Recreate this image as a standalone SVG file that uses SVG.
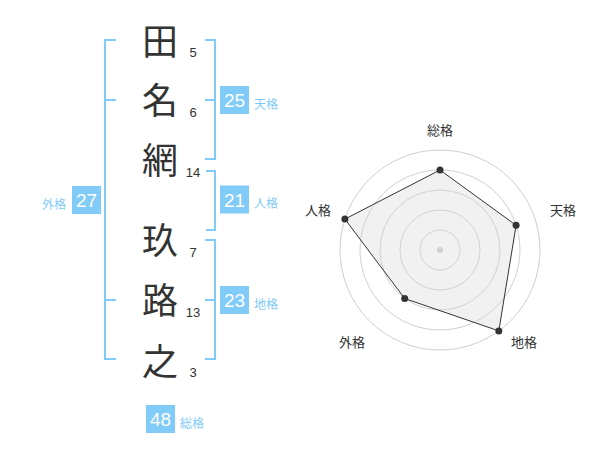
<svg xmlns="http://www.w3.org/2000/svg" width="600" height="470" viewBox="0 0 600 470">
<style>
.ch{font-family:"Noto Sans CJK JP","Noto Sans CJK SC",sans-serif;font-size:36px;fill:#333;text-anchor:middle}
.num{font-family:"Liberation Sans",Arial,sans-serif;font-size:13px;fill:#333;text-anchor:middle}
.box{fill:#80cbf7}
.bt{font-family:"Liberation Sans",Arial,sans-serif;font-size:19px;fill:#fff;text-anchor:middle}
.lb{font-family:"Noto Sans CJK JP","Noto Sans CJK SC",sans-serif;font-size:12px;fill:#80cbf7}
.br{fill:none;stroke:#80cbf7;stroke-width:2}
.ring{fill:none;stroke:#cfcfcf;stroke-width:1}
.rl{font-family:"Noto Sans CJK JP","Noto Sans CJK SC",sans-serif;font-size:13px;fill:#333;text-anchor:middle}
.pt{fill:#333}
</style>
<rect width="600" height="470" fill="#fff"/>
<g id="names">
<g id="c1"><text class="ch" x="160" y="55">田</text><text class="num" x="193" y="57">5</text></g>
<g id="c2"><text class="ch" x="160" y="114">名</text><text class="num" x="193" y="117">6</text></g>
<g id="c3"><text class="ch" x="160" y="174">網</text><text class="num" x="193" y="177">14</text></g>
<g id="c4"><text class="ch" x="160" y="254">玖</text><text class="num" x="193" y="257">7</text></g>
<g id="c5"><text class="ch" x="160" y="314">路</text><text class="num" x="193" y="317">13</text></g>
<g id="c6"><text class="ch" x="160" y="375">之</text><text class="num" x="193" y="377">3</text></g>
</g>
<g id="connectors">
<path class="br" d="M116,40 H105 V359 H116 M105,100 H116 M105,300 H116"/>
<path class="br" d="M205,40 H215 V159 H205 M205,100 H215"/>
<path class="br" d="M206,171 H215 V230 H206"/>
<path class="br" d="M205,240 H215 V359 H205 M205,300 H215"/>
</g>
<g id="tenkaku"><rect class="box" x="220" y="86" width="29" height="28"/><text class="bt" x="234.5" y="107">25</text><text class="lb" x="254" y="108.5">天格</text></g>
<g id="jinkaku"><rect class="box" x="220" y="185.5" width="29" height="28"/><text class="bt" x="234.5" y="206.5">21</text><text class="lb" x="254" y="208">人格</text></g>
<g id="chikaku"><rect class="box" x="220" y="286" width="29" height="28"/><text class="bt" x="234.5" y="307">23</text><text class="lb" x="254" y="308.5">地格</text></g>
<g id="gaikaku"><rect class="box" x="72" y="186" width="29" height="28"/><text class="bt" x="86.5" y="207">27</text><text class="lb" x="42" y="208.5">外格</text></g>
<g id="soukaku"><rect class="box" x="146" y="405" width="29" height="28"/><text class="bt" x="160.5" y="426">48</text><text class="lb" x="180" y="427.5">総格</text></g>
<g id="radar">
<circle class="ring" cx="440" cy="250" r="20"/>
<circle class="ring" cx="440" cy="250" r="40"/>
<circle class="ring" cx="440" cy="250" r="60"/>
<circle class="ring" cx="440" cy="250" r="80"/>
<circle class="ring" cx="440" cy="250" r="100"/>
<circle cx="440" cy="250" r="3" fill="#cccccc"/>
<polygon points="440,170 516.1,225.3 498.8,330.9 404.7,298.5 344.9,219.1" fill="#d8d8d8" fill-opacity="0.35" stroke="#333" stroke-width="1"/>
<circle class="pt" cx="440" cy="170" r="3.5"/>
<circle class="pt" cx="516.1" cy="225.3" r="3.5"/>
<circle class="pt" cx="498.8" cy="330.9" r="3.5"/>
<circle class="pt" cx="404.7" cy="298.5" r="3.5"/>
<circle class="pt" cx="344.9" cy="219.1" r="3.5"/>
<text class="rl" x="440" y="135">総格</text>
<text class="rl" x="563" y="214.5">天格</text>
<text class="rl" x="524" y="346.5">地格</text>
<text class="rl" x="352" y="346.5">外格</text>
<text class="rl" x="318" y="214.5">人格</text>
</g>
</svg>
